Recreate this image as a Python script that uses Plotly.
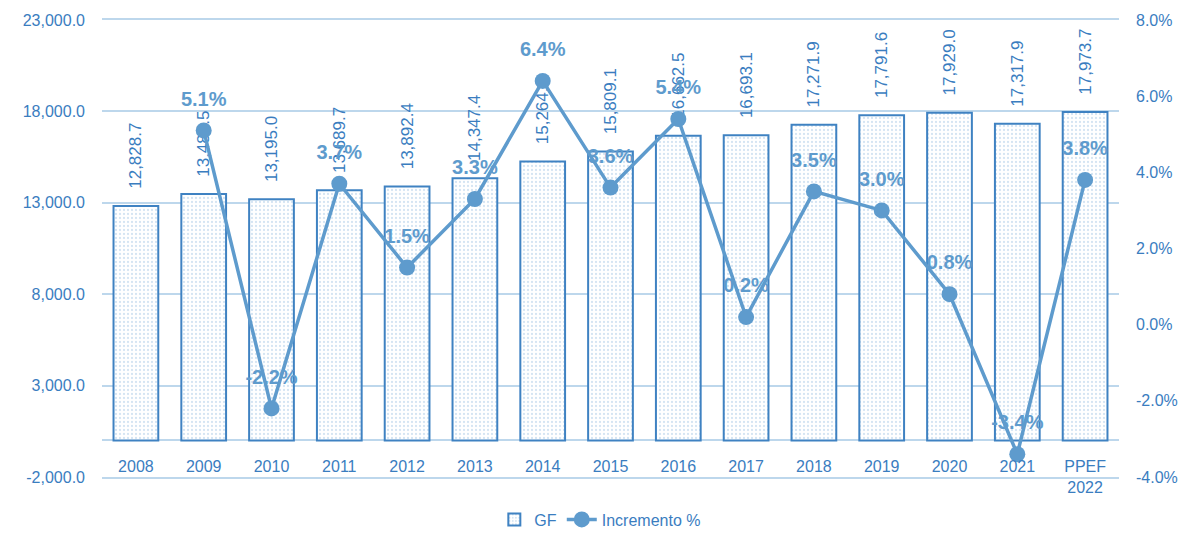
import plotly.graph_objects as go

categories = ["2008", "2009", "2010", "2011", "2012", "2013", "2014", "2015",
              "2016", "2017", "2018", "2019", "2020", "2021", "PPEF<br>2022"]
gf_values = [12828.7, 13485.5, 13195.0, 13689.7, 13892.4, 14347.4, 15264.2, 15809.1,
             16662.5, 16693.1, 17271.9, 17791.6, 17929.0, 17317.9, 17973.7]
increment_pct = [None, 5.1, -2.2, 3.7, 1.5, 3.3, 6.4, 3.6,
                 5.4, 0.2, 3.5, 3.0, 0.8, -3.4, 3.8]

left_tick_vals = [-2000, 3000, 8000, 13000, 18000, 23000]
left_tick_text = ["-2,000.0", "3,000.0", "8,000.0", "13,000.0", "18,000.0", "23,000.0"]
right_tick_vals = [-4, -2, 0, 2, 4, 6, 8]
right_tick_text = ["-4.0%", "-2.0%", "0.0%", "2.0%", "4.0%", "6.0%", "8.0%"]

TXT = "#3a7dbf"
LINE = "#5e9bcd"
GRID = "#bdd7ec"
FONT = "Liberation Sans, Arial, sans-serif"

fig = go.Figure()
fig.add_trace(go.Bar(
    x=categories, y=gf_values, name="GF", width=0.66,
    marker=dict(color="white", line=dict(color="#3f82c2", width=2),
                pattern=dict(shape=".", fgcolor="#a9c9e6", bgcolor="white",
                             size=4, solidity=0.25)),
    text=["\u00a0\u00a0\u00a0" + f"{v:,.1f}" for v in gf_values], textposition="outside",
    textangle=-90, constraintext="none",
    textfont=dict(color=TXT, size=17, family=FONT),
    cliponaxis=False,
))
fig.add_trace(go.Scatter(
    x=categories, y=increment_pct, name="Incremento %", yaxis="y2",
    mode="lines+markers",
    line=dict(color=LINE, width=3.5),
    marker=dict(color=LINE, size=16),
    cliponaxis=False,
))
# percentage labels (drawn on top, spaced above the markers)
fig.add_trace(go.Scatter(
    x=categories, y=increment_pct, yaxis="y2", showlegend=False,
    mode="markers+text", hoverinfo="skip",
    marker=dict(color="rgba(0,0,0,0)", size=30),
    texttemplate="%{y:.1f}%", textposition="top center",
    textfont=dict(color=LINE, size=20, family=FONT, weight="bold"),
    cliponaxis=False,
))

fig.update_layout(
    width=1188, height=541,
    margin=dict(l=94, r=77, t=12, b=61),
    paper_bgcolor="white", plot_bgcolor="white",
    font=dict(family=FONT, color=TXT, size=16),
    xaxis=dict(type="category", range=[-0.5, 14.5], showgrid=False,
               showline=True, mirror=True, linecolor=GRID, linewidth=2,
               ticks="", automargin=False,
               tickfont=dict(size=16, color=TXT), ticklabelstandoff=-26),
    yaxis=dict(range=[-2000, 23000], tickvals=left_tick_vals, ticktext=left_tick_text,
               showgrid=True, gridcolor=GRID, gridwidth=2, showline=False,
               zeroline=True, zerolinecolor=GRID, zerolinewidth=2,
               automargin=False,
               tickfont=dict(size=16, color=TXT), ticks="", ticklabelstandoff=16),
    yaxis2=dict(range=[-4, 8], tickvals=right_tick_vals, ticktext=right_tick_text,
                overlaying="y", side="right", automargin=False,
                showgrid=False, zeroline=False, showline=False,
                tickfont=dict(size=16, color=TXT), ticks="", ticklabelstandoff=16),
    legend=dict(orientation="h", x=0.49, xanchor="center", y=-0.093, yanchor="middle",
                font=dict(size=16, color=TXT), traceorder="normal"),
    showlegend=True,
)

fig.write_html("out.html")
